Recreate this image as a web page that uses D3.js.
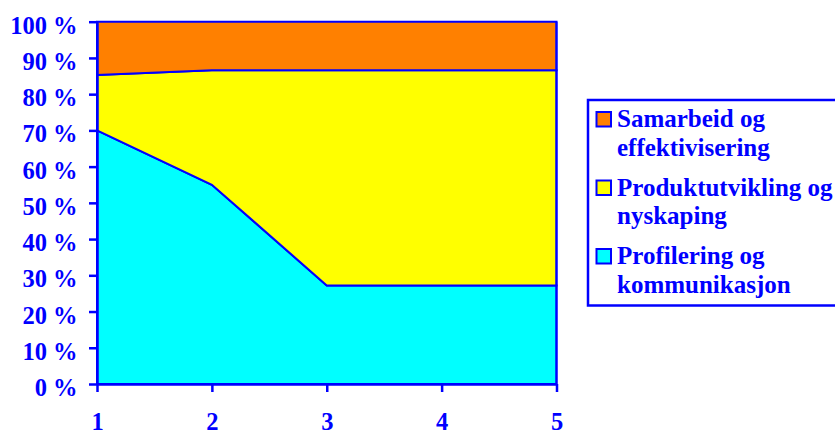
<!DOCTYPE html>
<html><head><meta charset="utf-8">
<script src="https://cdn.jsdelivr.net/npm/d3@7"></script>
<style>body{margin:0;background:#fff}svg{display:block}</style>
</head><body>
<svg id="c" width="835" height="435"></svg>
<script>
const categories = [1, 2, 3, 4, 5];
const profilering = [70, 55, 27.2, 27.2, 27.2];
const produktutvikling = [15.3, 31.6, 59.4, 59.4, 59.4];
const samarbeid = [14.7, 13.4, 13.4, 13.4, 13.4];
const seriesNames = ["Profilering og kommunikasjon", "Produktutvikling og nyskaping", "Samarbeid og effektivisering"];
const seriesColors = ["#00FFFF", "#FFFF00", "#FF8000"];
const legendLines = [["Samarbeid og", "effektivisering"], ["Produktutvikling og", "nyskaping"], ["Profilering og", "kommunikasjon"]];
const yTicks = [0, 10, 20, 30, 40, 50, 60, 70, 80, 90, 100];

const blue = "#0000FF";
const font = "'Liberation Serif', 'Times New Roman', serif";
const svg = d3.select("#c");
const pLeft = 97, pRight = 556.5, pTop = 21.7, pBottom = 384;

const table = categories.map((c, i) => ({cat: c, s0: profilering[i], s1: produktutvikling[i], s2: samarbeid[i]}));
const stack = d3.stack().keys(["s0", "s1", "s2"]);
const layers = stack(table);

const x = d3.scaleLinear().domain([1, 5]).range([pLeft, pRight]);
const y = d3.scaleLinear().domain([0, 100]).range([pBottom, pTop]);

const area = d3.area().x(d => x(d.data.cat)).y0(d => y(d[0])).y1(d => y(d[1]));

svg.append("g").selectAll("path").data(layers).join("path")
  .attr("d", area)
  .attr("fill", (d, i) => seriesColors[i])
  .attr("stroke", blue).attr("stroke-width", 2).attr("stroke-linejoin", "miter");

svg.append("line").attr("x1", pRight).attr("x2", pRight).attr("y1", pTop).attr("y2", pBottom)
  .attr("stroke", blue).attr("stroke-width", 2);

const yAxis = svg.append("g").attr("transform", `translate(${pLeft},0)`)
  .call(d3.axisLeft(y).tickValues(yTicks).tickFormat(d => d + " %").tickSize(8).tickSizeOuter(0).tickPadding(11.5));
const xAxis = svg.append("g").attr("transform", `translate(0,${pBottom})`)
  .call(d3.axisBottom(x).tickValues(categories).tickFormat(d3.format("d")).tickSize(8).tickSizeOuter(0).tickPadding(21));

[yAxis, xAxis].forEach(g => {
  g.select(".domain").attr("stroke", blue).attr("stroke-width", 2.5);
  g.selectAll(".tick line").attr("stroke", blue).attr("stroke-width", 2.5);
  g.selectAll(".tick text").attr("fill", blue).attr("font-family", font)
    .attr("font-weight", "bold").attr("font-size", 24.5);
});
yAxis.selectAll(".tick text").attr("dy", "0.47em");

const lg = svg.append("g");
lg.append("rect").attr("x", 588).attr("y", 100).attr("width", 260).attr("height", 205.5)
  .attr("fill", "#fff").attr("stroke", blue).attr("stroke-width", 2.5);
const legendColors = [seriesColors[2], seriesColors[1], seriesColors[0]];
legendLines.forEach((lines, i) => {
  const yy = 112 + i * 68.5;
  lg.append("rect").attr("x", 596.5).attr("y", yy).attr("width", 14.5).attr("height", 14.5)
    .attr("fill", legendColors[i]).attr("stroke", blue).attr("stroke-width", 2);
  const t = lg.append("text").attr("x", 617).attr("y", yy + 15)
    .attr("fill", blue).attr("font-family", font).attr("font-weight", "bold").attr("font-size", 25);
  lines.forEach((l, j) => t.append("tspan").attr("x", 617).attr("dy", j === 0 ? 0 : 28.5).text(l));
});
</script>
</body></html>
